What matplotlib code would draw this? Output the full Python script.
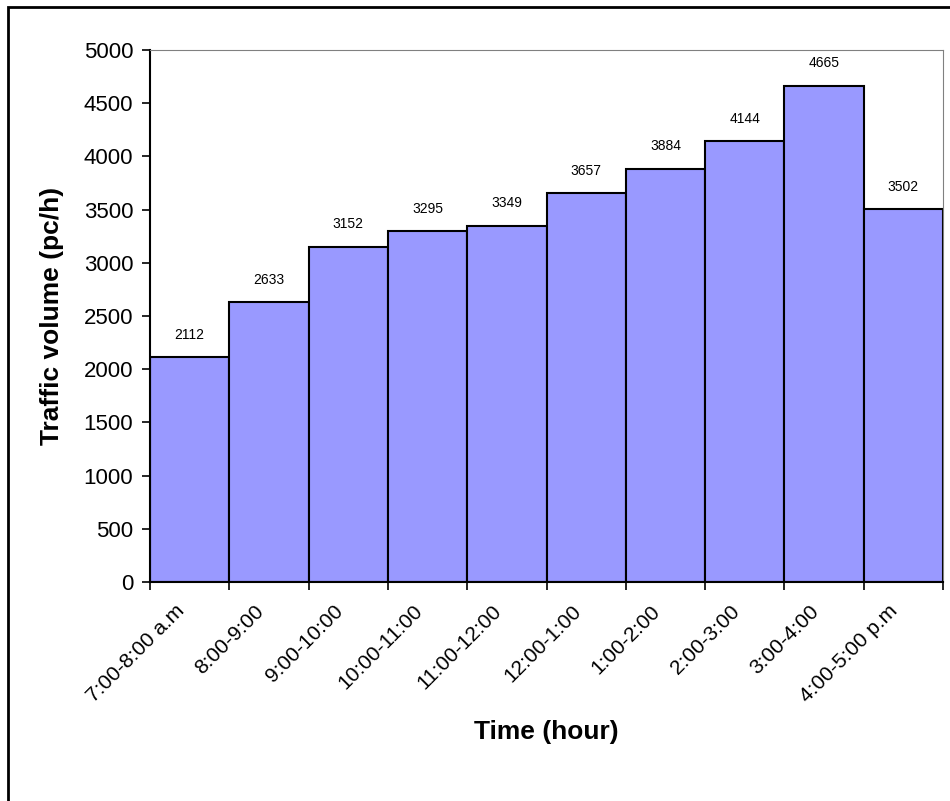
import numpy as np
import matplotlib.pyplot as plt
import matplotlib.transforms as mtransforms
from matplotlib.patches import Rectangle

plt.rcParams['font.family'] = ['Liberation Sans', 'DejaVu Sans']

# hourly traffic volume
periods = ["7:00-8:00 a.m", "8:00-9:00", "9:00-10:00", "10:00-11:00", "11:00-12:00",
           "12:00-1:00", "1:00-2:00", "2:00-3:00", "3:00-4:00", "4:00-5:00 p.m"]
volume = [2112, 2633, 3152, 3295, 3349, 3657, 3884, 4144, 4665, 3502]

fig = plt.figure(figsize=(9.5, 8.01), dpi=100)
ax = fig.add_axes([150/950, 1 - 582/801, 793/950, 532/801])

x = np.arange(len(periods))
ax.bar(x, volume, width=1.0, color="#9999FF", edgecolor="black", linewidth=1.5, zorder=2)

for xi, v in zip(x, volume):
    ax.annotate(str(v), (xi, v), xytext=(0, 11), textcoords="offset points",
                ha="center", va="bottom", fontsize=10)

ax.set_xlim(-0.5, len(periods) - 0.5)
ax.set_ylim(0, 5000)
ax.set_yticks(np.arange(0, 5001, 500))
ax.tick_params(axis="y", labelsize=16, length=6, width=1.2, direction="out", pad=6)

ax.set_xticks(x)
ax.set_xticklabels(periods, rotation=45, ha="right", va="top", rotation_mode="anchor")
ax.set_xticks(np.arange(-0.5, len(periods)), minor=True)
ax.tick_params(axis="x", which="major", length=0, labelsize=15, pad=14)
ax.tick_params(axis="x", which="minor", length=6, width=1.2, direction="out")

# nudge rotated labels a bit left of bar centres
shift = mtransforms.ScaledTranslation(-15/100, 0, fig.dpi_scale_trans)
for lbl in ax.get_xticklabels():
    lbl.set_transform(lbl.get_transform() + shift)

ax.spines["left"].set_linewidth(1.5)
ax.spines["bottom"].set_linewidth(1.5)
ax.spines["top"].set_color("#808080")
ax.spines["right"].set_color("#808080")

ax.set_ylabel("Traffic volume (pc/h)", fontsize=19, fontweight="bold", labelpad=14)
ax.set_xlabel("Time (hour)", fontsize=19, fontweight="bold", labelpad=10)

# outer frame
fig.patches.append(Rectangle((8/950, -0.1), 1.1, 1 - 7/801 + 0.1, transform=fig.transFigure,
                             fill=False, edgecolor="black", linewidth=2))

fig.savefig("out.png", dpi=100)
